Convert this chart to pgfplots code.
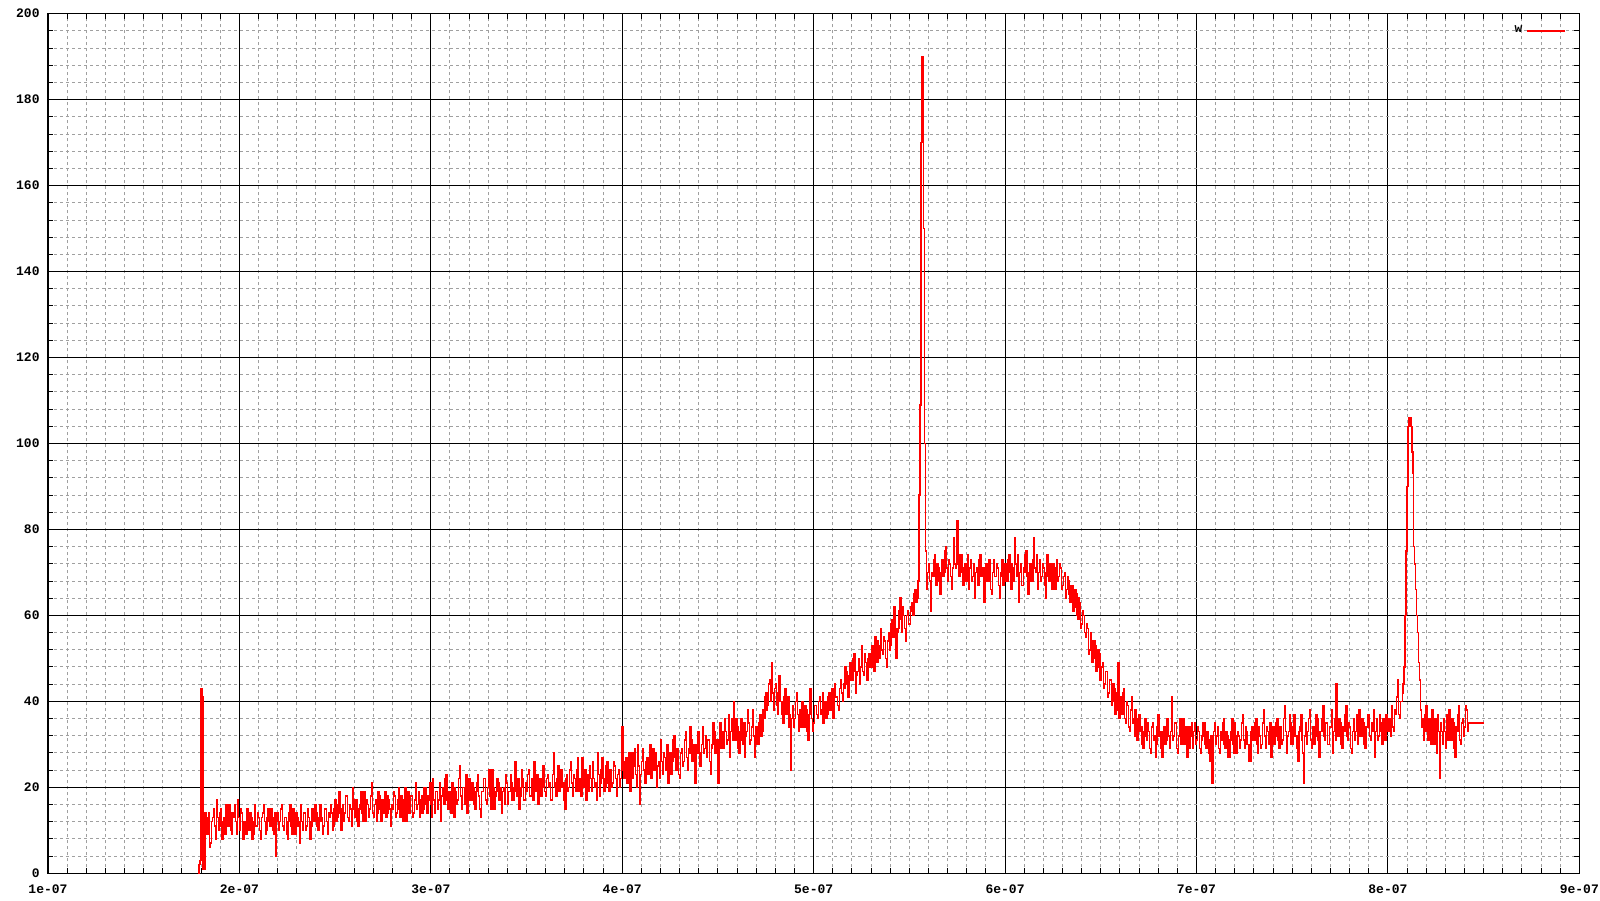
\documentclass[border=0pt]{standalone}
\usepackage{fontspec}
\setmonofont{Liberation Mono}
\usepackage{pgfplots}
\pgfplotsset{compat=1.18}
\definecolor{gridgray}{RGB}{160,160,160}
\begin{document}
\begin{tikzpicture}
\begin{axis}[
 scale only axis, width=765.65pt, height=429.8pt,
 xmin=100, xmax=900, ymin=0, ymax=200,
 xtick={100,200,...,900},
 xticklabels={1e-07,2e-07,3e-07,4e-07,5e-07,6e-07,7e-07,8e-07,9e-07},
 ytick={0,20,...,200},
 minor x tick num=9, minor y tick num=4,
 tick align=inside,
 major tick length=5pt, minor tick length=2.5pt,
 grid=both,
 major grid style={black, line width=0.5pt, solid},
 minor grid style={gridgray, line width=0.5pt, dash pattern=on 1.5pt off 1.5pt},
 axis line style={black, line width=0.6pt},
 every tick/.style={black, line width=0.5pt},
 /pgf/number format/assume math mode=true,
 ticklabel style={font=\fontsize{6.5}{7}\selectfont\ttfamily\bfseries},
 yticklabel style={anchor=east, inner sep=0pt, xshift=-4pt},
 xticklabel style={anchor=north, inner sep=0pt, yshift=-5.5pt},
 legend style={draw=none, fill=none, at={(axis description cs:1,0.97987)}, anchor=east, xshift=-6.65pt, inner sep=0pt, font=\fontsize{6.5}{7}\selectfont\ttfamily\bfseries},
 legend plot pos=right,
 legend image code/.code={\draw[#1, line width=0.6pt] (0pt,0pt) -- (19pt,0pt);},
]
\addplot[red, line width=0.75pt, const plot, mark=none] coordinates {
(178.5,0) (179,2) (179.5,3) (180,43) (180.5,41) (181,1) (181.5,1) (182,14) (182.5,11)
(183,9) (183.5,13) (184,14) (184.5,6) (185,7) (185.5,12) (186,13) (186.5,15) (187,11) (187.5,8) (188,17) (188.5,13) (189,10) (189.5,14) (190,15) (190.5,11)
(191,8) (191.5,12) (192,13) (192.5,9) (193,16) (193.5,14) (194,11) (194.5,16) (195,14) (195.5,10) (196,9) (196.5,14) (197,13) (197.5,16) (198,12) (198.5,9) (199,17) (199.5,13) (200,10) (200.5,15)
(201,14) (201.5,11) (202,8) (202.5,12) (203,12) (203.5,9) (204,15) (204.5,13) (205,10) (205.5,14) (206,13) (206.5,8) (207,9) (207.5,12) (208,16) (208.5,11) (209,11) (209.5,14) (210,13) (210.5,10)
(211,8) (211.5,13) (212,14) (212.5,16) (213,12) (213.5,9) (214,10) (214.5,13) (215,15) (215.5,12) (216,11) (216.5,15) (217,13) (217.5,10) (218,9) (218.5,14) (219,4) (219.5,12) (220,14) (220.5,10)
(221,12) (221.5,15) (222,16) (222.5,11) (223,10) (223.5,13) (224,13) (224.5,9) (225,8) (225.5,12) (226,14) (226.5,16) (227,11) (227.5,9) (228,15) (228.5,12) (229,9) (229.5,14) (230,13) (230.5,11)
(231,12) (231.5,7) (232,16) (232.5,12) (233,10) (233.5,14) (234,14) (234.5,10) (235,11) (235.5,15) (236,13) (236.5,12) (237,8) (237.5,11) (238,15) (238.5,13) (239,12) (239.5,16) (240,14) (240.5,11)
(241,10) (241.5,13) (242,16) (242.5,12) (243,13) (243.5,9) (244,11) (244.5,15) (245,15) (245.5,12) (246,9) (246.5,14) (247,13) (247.5,16) (248,14) (248.5,10) (249,11) (249.5,15) (250,17) (250.5,12)
(251,13) (251.5,16) (252,19) (252.5,14) (253,10) (253.5,15) (254,16) (254.5,12) (255,14) (255.5,18) (256,18) (256.5,13) (257,12) (257.5,16) (258,15) (258.5,11) (259,20) (259.5,15) (260,13) (260.5,17)
(261,17) (261.5,12) (262,11) (262.5,15) (263,16) (263.5,19) (264,14) (264.5,12) (265,19) (265.5,15) (266,12) (266.5,17) (267,16) (267.5,13) (268,15) (268.5,18) (269,21) (269.5,14) (270,13) (270.5,16)
(271,17) (271.5,12) (272,14) (272.5,19) (273,18) (273.5,15) (274,12) (274.5,17) (275,16) (275.5,14) (276,19) (276.5,13) (277,14) (277.5,18) (278,17) (278.5,15) (279,11) (279.5,16) (280,15) (280.5,19)
(281,18) (281.5,13) (282,14) (282.5,17) (283,20) (283.5,15) (284,13) (284.5,18) (285,16) (285.5,12) (286,17) (286.5,20) (287,12) (287.5,16) (288,19) (288.5,14) (289,15) (289.5,18) (290,18) (290.5,13)
(291,14) (291.5,17) (292,21) (292.5,15) (293,16) (293.5,19) (294,13) (294.5,17) (295,18) (295.5,14) (296,15) (296.5,20) (297,20) (297.5,16) (298,14) (298.5,18) (299,17) (299.5,21) (300,16) (300.5,13)
(301,22) (301.5,17) (302,14) (302.5,19) (303,19) (303.5,15) (304,17) (304.5,21) (305,12) (305.5,18) (306,20) (306.5,16) (307,16) (307.5,22) (308,23) (308.5,17) (309,15) (309.5,19) (310,18) (310.5,14)
(311,21) (311.5,17) (312,13) (312.5,20) (313,19) (313.5,16) (314,17) (314.5,22) (315,25) (315.5,18) (316,15) (316.5,20) (317,20) (317.5,16) (318,18) (318.5,23) (319,14) (319.5,19) (320,22) (320.5,17)
(321,17) (321.5,21) (322,20) (322.5,16) (323,15) (323.5,19) (324,21) (324.5,23) (325,18) (325.5,15) (326,13) (326.5,19) (327,19) (327.5,22) (328,22) (328.5,17) (329,16) (329.5,20) (330,20) (330.5,24)
(331,18) (331.5,15) (332,24) (332.5,20) (333,15) (333.5,18) (334,19) (334.5,22) (335,21) (335.5,17) (336,17) (336.5,20) (337,14) (337.5,19) (338,20) (338.5,16) (339,23) (339.5,21) (340,16) (340.5,19)
(341,19) (341.5,23) (342,21) (342.5,17) (343,17) (343.5,20) (344,26) (344.5,19) (345,18) (345.5,22) (346,15) (346.5,18) (347,20) (347.5,24) (348,22) (348.5,17) (349,17) (349.5,21) (350,19) (350.5,23)
(351,24) (351.5,18) (352,18) (352.5,22) (353,21) (353.5,17) (354,26) (354.5,20) (355,19) (355.5,23) (356,16) (356.5,21) (357,22) (357.5,18) (358,20) (358.5,25) (359,25) (359.5,19) (360,18) (360.5,22)
(361,23) (361.5,20) (362,21) (362.5,17) (363,17) (363.5,23) (364,28) (364.5,21) (365,20) (365.5,18) (366,22) (366.5,25) (367,19) (367.5,22) (368,24) (368.5,20) (369,21) (369.5,17) (370,15) (370.5,22)
(371,23) (371.5,19) (372,20) (372.5,24) (373,26) (373.5,21) (374,18) (374.5,23) (375,22) (375.5,19) (376,24) (376.5,27) (377,19) (377.5,22) (378,21) (378.5,18) (379,27) (379.5,23) (380,20) (380.5,24)
(381,17) (381.5,21) (382,23) (382.5,19) (383,25) (383.5,22) (384,19) (384.5,26) (385,22) (385.5,20) (386,21) (386.5,17) (387,28) (387.5,23) (388,18) (388.5,21) (389,24) (389.5,27) (390,22) (390.5,19)
(391,20) (391.5,25) (392,26) (392.5,21) (393,19) (393.5,24) (394,23) (394.5,20) (395,21) (395.5,26) (396,25) (396.5,22) (397,18) (397.5,23) (398,24) (398.5,20) (399,22) (399.5,27) (400,34) (400.5,24)
(401,22) (401.5,26) (402,27) (402.5,21) (403,24) (403.5,28) (404,19) (404.5,25) (405,28) (405.5,22) (406,25) (406.5,29) (407,23) (407.5,20) (408,30) (408.5,25) (409,16) (409.5,23) (410,26) (410.5,29)
(411,24) (411.5,21) (412,21) (412.5,26) (413,27) (413.5,23) (414,25) (414.5,30) (415,22) (415.5,26) (416,29) (416.5,24) (417,24) (417.5,28) (418,20) (418.5,25) (419,26) (419.5,22) (420,31) (420.5,26)
(421,23) (421.5,28) (422,27) (422.5,24) (423,25) (423.5,30) (424,21) (424.5,26) (425,28) (425.5,23) (426,26) (426.5,31) (427,32) (427.5,27) (428,24) (428.5,29) (429,27) (429.5,23) (430,22) (430.5,28)
(431,29) (431.5,25) (432,26) (432.5,31) (433,33) (433.5,27) (434,24) (434.5,29) (435,28) (435.5,34) (436,31) (436.5,26) (437,27) (437.5,30) (438,21) (438.5,28) (439,30) (439.5,33) (440,28) (440.5,25)
(441,25) (441.5,30) (442,34) (442.5,28) (443,29) (443.5,32) (444,27) (444.5,31) (445,31) (445.5,26) (446,23) (446.5,29) (447,30) (447.5,35) (448,33) (448.5,28) (449,28) (449.5,31) (450,21) (450.5,30)
(451,35) (451.5,29) (452,30) (452.5,33) (453,29) (453.5,36) (454,33) (454.5,30) (455,31) (455.5,37) (456,27) (456.5,33) (457,36) (457.5,31) (458,40) (458.5,34)
(459,31) (459.5,36) (460,34) (460.5,29) (461,28) (461.5,33) (462,36) (462.5,31) (463,30) (463.5,35) (464,27) (464.5,32) (465,33) (465.5,38) (466,35) (466.5,30) (467,31) (467.5,34) (468,38) (468.5,32) (469,27) (469.5,33) (470,34) (470.5,30)
(471,30) (471.5,35) (472,37) (472.5,32) (473,33) (473.5,38) (474,36) (474.5,41) (475,42) (475.5,38) (476,39) (476.5,44) (477,45) (477.5,40) (478,49) (478.5,42) (479,38) (479.5,43) (480,44) (480.5,39)
(481,37) (481.5,42) (482,46) (482.5,40) (483,40) (483.5,37) (484,35) (484.5,41) (485,43) (485.5,37)
(486,38) (486.5,41) (487,34) (487.5,37) (488,24) (488.5,36) (489,39) (489.5,34) (490,36) (490.5,40) (491,42) (491.5,37) (492,33) (492.5,38) (493,37) (493.5,34) (494,40) (494.5,36) (495,34) (495.5,39)
(496,38) (496.5,33) (497,31) (497.5,37) (498,43) (498.5,38) (499,36) (499.5,33) (500,35) (500.5,39)
(501,39) (501.5,37) (502,36) (502.5,40) (503,41) (503.5,37) (504,38) (504.5,42) (505,35) (505.5,39) (506,40) (506.5,36) (507,37) (507.5,41) (508,42) (508.5,38) (509,39) (509.5,43) (510,36) (510.5,40)
(511,44) (511.5,41) (512,41) (512.5,39) (513,38) (513.5,43) (514,45) (514.5,42) (515,40) (515.5,44)
(516,43) (516.5,48) (517,47) (517.5,44) (518,41) (518.5,46) (519,49) (519.5,45) (520,45) (520.5,50) (521,51) (521.5,47) (522,42) (522.5,46) (523,47) (523.5,50) (524,44) (524.5,48) (525,53) (525.5,47)
(526,46) (526.5,51) (527,49) (527.5,45) (528,45) (528.5,50) (529,51) (529.5,48) (530,48) (530.5,53)
(531,50) (531.5,47) (532,55) (532.5,52) (533,49) (533.5,54) (534,53) (534.5,50) (535,57) (535.5,52) (536,51) (536.5,55) (537,54) (537.5,50) (538,48) (538.5,54) (539,56) (539.5,52) (540,53) (540.5,58)
(541,59) (541.5,55) (542,62) (542.5,57) (543,50) (543.5,56) (544,57) (544.5,61) (545,64) (545.5,59) (546,56) (546.5,62) (547,60) (547.5,57) (548,54) (548.5,60) (549,61) (549.5,58) (550,58) (550.5,62)
(551,63) (551.5,61) (552,60) (552.5,65) (553,66) (553.5,63) (554,64) (554.5,68)
(555,88) (555.5,109) (556,170) (556.5,190) (557,182) (557.5,150) (558,100) (558.5,75) (559,66) (559.5,70)
(560,72) (560.5,68) (561,61) (561.5,70) (562,69) (562.5,73) (563,74) (563.5,69) (564,67) (564.5,72) (565,71) (565.5,68) (566,65) (566.5,70) (567,73) (567.5,69) (568,70) (568.5,75) (569,76) (569.5,71)
(570,68) (570.5,73) (571,72) (571.5,69) (572,66) (572.5,71) (573,78) (573.5,72) (574,71) (574.5,76) (575,82) (575.5,72) (576,69) (576.5,74) (577,74) (577.5,70) (578,67) (578.5,71) (579,72) (579.5,68)
(580,70) (580.5,74) (581,66) (581.5,71) (582,73) (582.5,68) (583,69) (583.5,72) (584,64) (584.5,70) (585,71) (585.5,67) (586,67) (586.5,73) (587,74) (587.5,69) (588,69) (588.5,71) (589,63) (589.5,68)
(590,72) (590.5,69) (591,68) (591.5,73) (592,70) (592.5,66) (593,65) (593.5,70) (594,73) (594.5,69) (595,69) (595.5,72) (596,71) (596.5,67) (597,64) (597.5,69) (598,70) (598.5,73) (599,67) (599.5,71)
(600,72) (600.5,68) (601,68) (601.5,73) (602,74) (602.5,70) (603,66) (603.5,72) (604,71) (604.5,68) (605,78) (605.5,72) (606,69) (606.5,74) (607,63) (607.5,70) (608,72) (608.5,67) (609,67) (609.5,71)
(610,70) (610.5,74) (611,75) (611.5,69) (612,65) (612.5,70) (613,72) (613.5,68) (614,68) (614.5,73) (615,78) (615.5,71) (616,70) (616.5,74) (617,66) (617.5,70) (618,73) (618.5,68) (619,69) (619.5,72)
(620,71) (620.5,67) (621,64) (621.5,70) (622,74) (622.5,69) (623,68) (623.5,72) (624,70) (624.5,66) (625,72) (625.5,69) (626,66) (626.5,71) (627,73) (627.5,68) (628,69) (628.5,72) (629,71) (629.5,66)
(630,67) (630.5,69) (631,70) (631.5,64) (632,66) (632.5,69) (633,68) (633.5,65) (634,63) (634.5,67) (635,67) (635.5,61) (636,62) (636.5,66) (637,65) (637.5,60) (638,59) (638.5,64) (639,63) (639.5,57)
(640,58) (640.5,61) (641,60) (641.5,56) (642,55) (642.5,58) (643,57) (643.5,51) (644,52) (644.5,56) (645,54) (645.5,49) (646,50) (646.5,54) (647,53) (647.5,47) (648,48) (648.5,52) (649,51) (649.5,45)
(650,46) (650.5,48) (651,49) (651.5,43) (652,44) (652.5,47) (653,47) (653.5,41) (654,42) (654.5,45) (655,45) (655.5,39) (656,40) (656.5,44) (657,43) (657.5,37) (658,38) (658.5,42) (659,49) (659.5,36)
(660,41) (660.5,38) (661,37) (661.5,42) (662,43) (662.5,36) (663,35) (663.5,40) (664,39) (664.5,34) (665,33) (665.5,38) (666,41) (666.5,35) (667,36) (667.5,32) (668,38) (668.5,34) (669,31) (669.5,36)
(670,37) (670.5,33) (671,34) (671.5,30) (672,29) (672.5,33) (673,36) (673.5,32) (674,31) (674.5,35) (675,33) (675.5,29) (676,28) (676.5,34) (677,35) (677.5,31) (678,32) (678.5,27) (679,30) (679.5,34)
(680,37) (680.5,32) (681,33) (681.5,29) (682,27) (682.5,33) (683,34) (683.5,30) (684,31) (684.5,36) (685,36) (685.5,32) (686,29) (686.5,33) (687,41) (687.5,31) (688,32) (688.5,35) (689,35) (689.5,29)
(690,28) (690.5,32) (691,33) (691.5,36) (692,30) (692.5,33) (693,36) (693.5,30) (694,31) (694.5,34) (695,27) (695.5,31) (696,34) (696.5,29) (697,32) (697.5,35) (698,29) (698.5,33) (699,35) (699.5,30)
(700,31) (700.5,34) (701,33) (701.5,29) (702,28) (702.5,31) (703,32) (703.5,35) (704,35) (704.5,30) (705,29) (705.5,33) (706,31) (706.5,28) (707,26) (707.5,32) (708,21) (708.5,30) (709,33) (709.5,35)
(710,30) (710.5,32) (711,34) (711.5,29) (712,28) (712.5,33) (713,31) (713.5,35) (714,36) (714.5,30) (715,29) (715.5,33) (716,32) (716.5,27) (717,27) (717.5,31) (718,33) (718.5,36) (719,30) (719.5,28)
(720,35) (720.5,32) (721,28) (721.5,33) (722,32) (722.5,29) (723,31) (723.5,35) (724,37) (724.5,31) (725,29) (725.5,34) (726,33) (726.5,30) (727,30) (727.5,26) (728,26) (728.5,33) (729,34) (729.5,31)
(730,31) (730.5,35) (731,36) (731.5,30) (732,28) (732.5,34) (733,32) (733.5,29) (734,30) (734.5,35) (735,38) (735.5,32) (736,29) (736.5,34) (737,33) (737.5,30) (738,31) (738.5,35) (739,27) (739.5,32)
(740,34) (740.5,30) (741,32) (741.5,35) (742,36) (742.5,31) (743,29) (743.5,34) (744,34) (744.5,30) (745,31) (745.5,36) (746,39) (746.5,33) (747,28) (747.5,32) (748,33) (748.5,37) (749,35) (749.5,30)
(750,30) (750.5,34) (751,37) (751.5,32) (752,32) (752.5,29) (753,26) (753.5,33) (754,34) (754.5,37) (755,31) (755.5,28) (756,21) (756.5,32) (757,35) (757.5,30) (758,33) (758.5,36) (759,38) (759.5,31)
(760,29) (760.5,34) (761,34) (761.5,30) (762,32) (762.5,37) (763,36) (763.5,31) (764,27) (764.5,33) (765,33) (765.5,36) (766,39) (766.5,32) (767,31) (767.5,35) (768,35) (768.5,30) (769,30) (769.5,34)
(770,34) (770.5,38) (771,28) (771.5,33) (772,36) (772.5,31) (773,44) (773.5,34) (774,32) (774.5,36) (775,35) (775.5,30) (776,29) (776.5,34) (777,33) (777.5,37) (778,39) (778.5,32) (779,31) (779.5,35)
(780,34) (780.5,29) (781,28) (781.5,33) (782,36) (782.5,31) (783,33) (783.5,37) (784,30) (784.5,34) (785,38) (785.5,32) (786,32) (786.5,36) (787,35) (787.5,30) (788,29) (788.5,34) (789,34) (789.5,37)
(790,37) (790.5,32) (791,31) (791.5,35) (792,33) (792.5,38) (793,27) (793.5,33) (794,36) (794.5,31) (795,32) (795.5,37) (796,35) (796.5,33) (797,30) (797.5,36) (798,34) (798.5,31) (799,37) (799.5,34)
(800,33) (800.5,36) (801,35) (801.5,32) (802,39) (802.5,34) (803,33) (803.5,38) (804,37) (804.5,41) (805,45) (805.5,37) (806,36) (806.5,40) (807,40) (807.5,42) (808,44) (808.5,48)
(809,60) (809.5,75) (810,90) (810.5,104) (811,106) (811.5,106) (812,104) (812.5,98) (813,93) (813.5,76) (814,72) (814.5,66) (815,60) (815.5,56) (816,49) (816.5,45) (817,38) (817.5,34)
(818,36) (818.5,31) (819,33) (819.5,37) (820,39) (820.5,33) (821,31) (821.5,36) (822,35) (822.5,30) (823,38) (823.5,34) (824,30) (824.5,36) (825,34) (825.5,28) (826,37) (826.5,33) (827,22) (827.5,35)
(828,33) (828.5,30) (829,36) (829.5,33) (830,29) (830.5,37) (831,34) (831.5,31) (832,38) (832.5,34) (833,31) (833.5,36) (834,35) (834.5,29) (835,27) (835.5,34) (836,33) (836.5,37) (837,39) (837.5,31)
(838,30) (838.5,35) (839,36) (839.5,32) (840,34) (840.5,39) (841,38) (841.5,33) (842,35) (850,35)
};
\addlegendentry{w}
\end{axis}
\pgfresetboundingbox
\path[use as bounding box] ([shift={(-24pt,-13.35pt)}]current axis.south west) rectangle ([shift={(10.35pt,6.85pt)}]current axis.north east);
\end{tikzpicture}
\end{document}
